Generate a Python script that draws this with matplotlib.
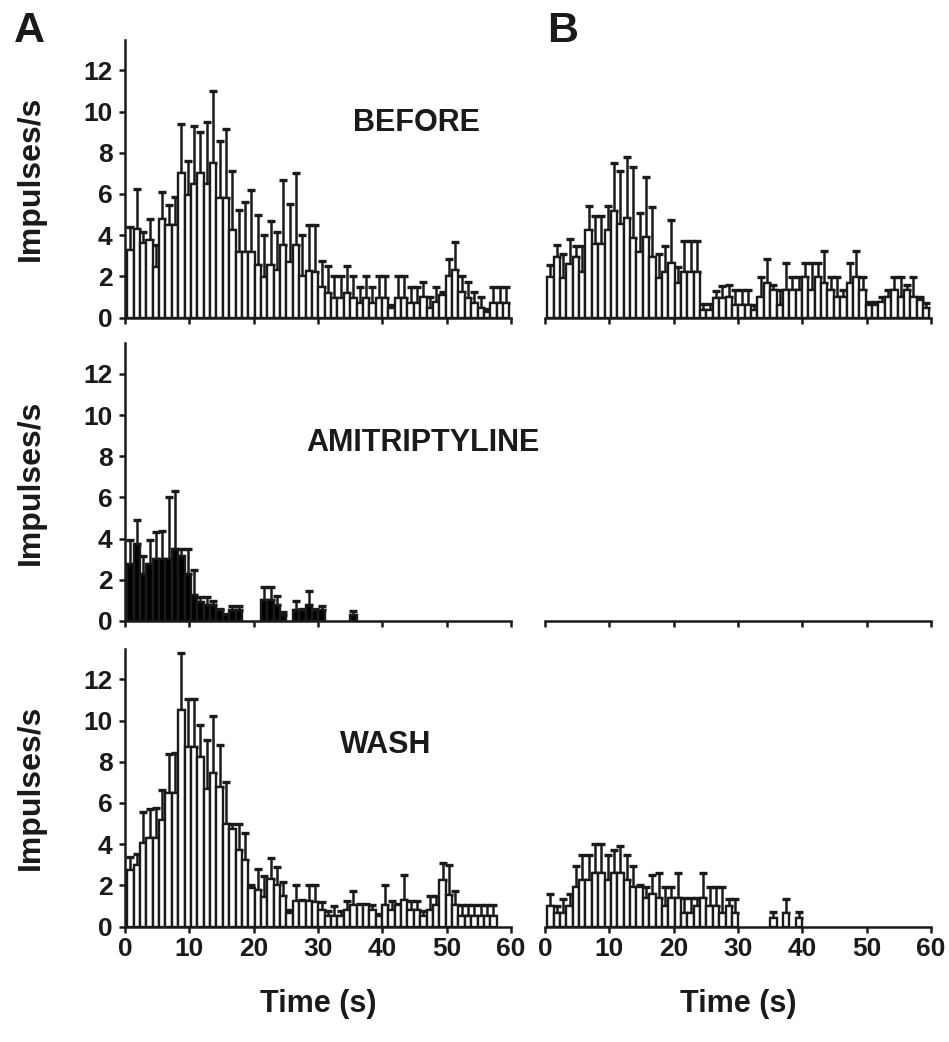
import numpy as np
import matplotlib.pyplot as plt

plt.rcParams['font.family'] = ['Liberation Sans', 'DejaVu Sans']
plt.rcParams['font.weight'] = 'bold'

# 1-s bins, 0-60 s
t = np.arange(60)

# BEFORE, cell A (mean and top of error bar)
before_a_mean = [3.27, 4.29, 3.6, 3.75, 2.46, 4.76, 4.48, 4.48, 7.0, 5.94,
                 6.47, 7.0, 6.47, 7.48, 5.78, 5.78, 4.24, 3.19, 3.19, 3.19,
                 2.54, 1.97, 2.54, 2.3, 3.5, 2.7, 3.5, 2.0, 2.27, 2.22,
                 1.5, 1.2, 0.93, 0.93, 1.2, 0.93, 0.69, 0.93, 0.69, 0.93,
                 0.93, 0.45, 0.93, 0.93, 0.69, 0.69, 1.0, 0.45, 0.77, 1.1,
                 2.0, 2.3, 1.25, 0.93, 0.69, 0.45, 0.28, 0.69, 0.69, 0.69]
before_a_hi = [4.4, 6.26, 4.15, 4.77, 3.5, 6.1, 5.45, 5.83, 9.42, 7.59,
               9.29, 9.01, 9.47, 11.0, 8.58, 9.13, 7.12, 5.24, 5.61, 6.18,
               5.0, 4.0, 4.68, 4.16, 6.67, 5.5, 7.0, 4.0, 4.5, 4.49,
               2.74, 2.5, 2.0, 2.0, 2.5, 2.0, 1.5, 2.0, 1.5, 2.0,
               2.0, 0.6, 2.0, 2.0, 1.5, 1.5, 1.74, 1.0, 1.5, 1.25,
               2.83, 3.68, 2.0, 1.74, 1.25, 1.0, 0.4, 1.5, 1.5, 1.5]

# BEFORE, cell B
before_b_mean = [1.98, 2.95, 1.9, 2.6, 2.95, 2.22, 4.25, 3.55, 3.55, 4.25,
                 5.19, 4.52, 4.85, 3.84, 3.2, 3.9, 2.95, 1.9, 2.22, 2.63,
                 1.66, 2.22, 2.22, 2.22, 0.36, 0.36, 0.93, 0.93, 1.0, 0.6,
                 0.6, 0.6, 0.36, 1.0, 1.66, 1.33, 0.6, 1.33, 1.33, 1.33,
                 1.98, 1.33, 1.98, 1.66, 1.33, 1.0, 1.0, 1.66, 1.98, 1.33,
                 0.6, 0.6, 0.77, 1.0, 1.33, 1.0, 1.33, 1.0, 0.85, 0.44]
before_b_hi = [2.55, 3.52, 3.1, 3.8, 3.47, 3.47, 5.4, 4.95, 4.95, 5.4,
               7.48, 7.1, 7.78, 7.29, 5.06, 6.84, 5.38, 3.1, 3.47, 4.73,
               2.47, 3.73, 3.73, 3.73, 0.66, 0.66, 1.29, 1.53, 1.58, 1.33,
               1.33, 1.33, 0.6, 1.98, 2.82, 1.6, 1.33, 2.63, 1.98, 1.98,
               2.63, 2.63, 2.63, 3.24, 1.98, 1.98, 1.33, 2.63, 3.24, 1.98,
               0.77, 0.77, 1.0, 1.33, 1.98, 1.98, 1.6, 1.98, 1.0, 0.7]

# AMITRIPTYLINE, cell A
amit_a_mean = [2.75, 3.76, 2.3, 2.75, 3.0, 3.0, 3.0, 3.52, 3.14, 2.27,
               1.25, 0.92, 0.76, 0.76, 0.52, 0.28, 0.52, 0.52, 0, 0,
               0, 1.0, 1.0, 0.76, 0.28, 0, 0.52, 0.52, 0.76, 0.52,
               0.52, 0, 0, 0, 0, 0.28, 0, 0, 0, 0,
               0, 0, 0, 0, 0, 0, 0, 0, 0, 0,
               0, 0, 0, 0, 0, 0, 0, 0, 0, 0]
amit_a_hi = [3.92, 4.89, 3.14, 3.95, 4.33, 4.37, 6.0, 6.32, 3.52, 3.52,
             2.46, 1.17, 1.17, 0.97, 0.6, 0.36, 0.73, 0.73, 0, 0,
             0, 1.65, 1.65, 1.2, 0.44, 0, 0.97, 0.6, 1.48, 0.6,
             0.73, 0, 0, 0, 0, 0.47, 0, 0, 0, 0,
             0, 0, 0, 0, 0, 0, 0, 0, 0, 0,
             0, 0, 0, 0, 0, 0, 0, 0, 0, 0]

# AMITRIPTYLINE, cell B (no firing)
amit_b_mean = [0] * 60
amit_b_hi = [0] * 60

# WASH, cell A
wash_a_mean = [2.74, 3.0, 4.04, 4.28, 4.28, 5.17, 6.46, 6.46, 10.5, 8.73,
               8.73, 8.24, 6.7, 7.47, 6.79, 5.0, 4.72, 3.71, 3.23, 1.85,
               1.77, 1.45, 2.29, 2.02, 1.48, 0.64, 1.25, 1.25, 1.25, 1.2,
               0.8, 0.53, 0.53, 0.53, 0.8, 1.04, 1.04, 1.04, 0.8, 0.53,
               1.04, 0.8, 1.04, 1.29, 0.8, 0.8, 0.53, 0.8, 1.04, 2.26,
               1.53, 1.04, 0.53, 0.53, 0.53, 0.53, 0.53, 0.53, 0, 0]
wash_a_hi = [3.39, 3.52, 5.58, 5.69, 5.77, 6.63, 8.36, 8.44, 13.26, 11.03,
             11.03, 9.78, 9.05, 10.2, 8.8, 7.03, 5.0, 5.0, 4.53, 2.0,
             2.79, 2.45, 3.31, 2.91, 2.18, 0.8, 2.02, 1.3, 2.02, 2.0,
             1.2, 0.77, 1.0, 0.77, 1.24, 1.72, 1.1, 1.1, 1.04, 0.6,
             2.0, 1.24, 1.1, 2.5, 1.24, 1.24, 0.77, 1.5, 1.5, 3.1,
             2.99, 1.72, 1.04, 1.04, 1.04, 1.04, 1.04, 1.04, 0, 0]

# WASH, cell B
wash_b_mean = [1.0, 0.64, 0.64, 1.0, 1.93, 2.26, 2.26, 2.58, 2.58, 2.26,
               2.58, 2.58, 2.26, 1.93, 1.93, 1.37, 1.6, 1.37, 1.0, 1.37,
               1.37, 0.64, 0.64, 1.0, 1.37, 1.0, 1.0, 0.64, 1.0, 0.64,
               0, 0, 0, 0, 0, 0.4, 0, 0.64, 0, 0.4,
               0, 0, 0, 0, 0, 0, 0, 0, 0, 0,
               0, 0, 0, 0, 0, 0, 0, 0, 0, 0]
wash_b_hi = [1.58, 1.0, 1.32, 1.58, 2.94, 3.47, 3.47, 4.0, 4.0, 3.47,
             3.71, 3.9, 3.47, 2.94, 2.0, 1.93, 2.5, 2.6, 1.93, 1.93,
             2.6, 1.37, 1.37, 1.37, 2.6, 1.93, 1.93, 1.93, 1.32, 1.32,
             0, 0, 0, 0, 0, 0.72, 0, 1.32, 0, 0.72,
             0, 0, 0, 0, 0, 0, 0, 0, 0, 0,
             0, 0, 0, 0, 0, 0, 0, 0, 0, 0]

rows = [("BEFORE", before_a_mean, before_a_hi, before_b_mean, before_b_hi, 'white'),
        ("AMITRIPTYLINE", amit_a_mean, amit_a_hi, amit_b_mean, amit_b_hi, 'black'),
        ("WASH", wash_a_mean, wash_a_hi, wash_b_mean, wash_b_hi, 'white')]
title_xy = [(0.756, 0.70), (0.772, 0.64), (0.674, 0.653)]

W, H = 949, 1042
fig = plt.figure(figsize=(W / 100, H / 100), dpi=100)

left_px = [125, 545]
bottom_px = [317.5, 621, 926.5]
aw, ah = 386, 278

xpos = 0.35 + 0.99 * t   # left edge of each bar
bw = 0.99

for r, (name, ma, ha, mb, hb, fc) in enumerate(rows):
    for c, (m, hi) in enumerate([(ma, ha), (mb, hb)]):
        ax = fig.add_axes([left_px[c] / W, 1 - bottom_px[r] / H, aw / W, ah / H])
        m = np.array(m, dtype=float)
        hi = np.array(hi, dtype=float)
        nz = m > 0
        err = np.vstack([np.zeros(nz.sum()), hi[nz] - m[nz]])
        ax.errorbar(xpos[nz] + bw / 2, m[nz], yerr=err, fmt='none',
                    ecolor='#1a1a1a', elinewidth=1.8, capsize=2.9, capthick=2.4, zorder=1)
        ax.bar(xpos[nz], m[nz], width=bw, align='edge', color=fc,
               edgecolor='#1a1a1a', linewidth=1.7, zorder=2)
        ax.set_xlim(0, 60)
        ax.set_ylim(0, 13.5)
        ax.set_xticks(range(0, 61, 10))
        ax.set_yticks(range(0, 13, 2))
        for s in ['top', 'right']:
            ax.spines[s].set_visible(False)
        ax.spines['bottom'].set_linewidth(1.8)
        ax.spines['left'].set_linewidth(1.8)
        ax.spines['bottom'].set_color('#1a1a1a')
        ax.spines['left'].set_color('#1a1a1a')
        ax.tick_params(direction='out', length=4, width=1.8, labelsize=19,
                       color='#1a1a1a', labelcolor='#1a1a1a')
        ax.tick_params(axis='y', pad=5)
        if c == 1:
            ax.spines['left'].set_visible(False)
            ax.tick_params(axis='y', left=False, labelleft=False)
        else:
            ax.set_ylabel("Impulses/s", fontsize=23, fontweight='bold', color='#1a1a1a')
            ax.yaxis.set_label_coords(-0.205, 0.5)
            ax.text(title_xy[r][0], title_xy[r][1], name, transform=ax.transAxes,
                    ha='center', va='center', fontsize=22, fontweight='bold',
                    color='#1a1a1a')
        if r < 2:
            ax.tick_params(axis='x', labelbottom=False)
        else:
            ax.set_xlabel("Time (s)", fontsize=22, fontweight='bold', labelpad=20,
                          color='#1a1a1a')
        for lab in ax.get_xticklabels() + ax.get_yticklabels():
            lab.set_fontweight('bold')

fig.text(29 / W, 1 - 31 / H, "A", fontsize=31, fontweight='bold', ha='center', va='center',
         color='#1a1a1a')
fig.text(563 / W, 1 - 31 / H, "B", fontsize=31, fontweight='bold', ha='center', va='center',
         color='#1a1a1a')

fig.savefig("out.png", dpi=100)
